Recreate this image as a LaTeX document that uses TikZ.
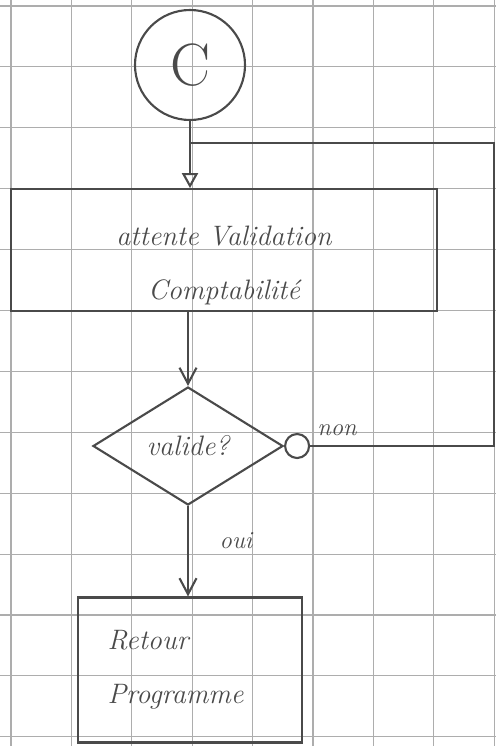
\documentclass[tikz,border=0pt]{standalone}
\usepackage{tikz}
\usetikzlibrary{arrows.meta,positioning,shapes.geometric}
\definecolor{Ink}{HTML}{4A4A4A}
\definecolor{GridLine}{HTML}{ADADAD}

\begin{document}
\begin{tikzpicture}[
    x=0.2mm, y=-0.2mm,
    hand/.style={font=\fontsize{16}{31}\selectfont\itshape, text=Ink},
    stepbox/.style={draw=Ink, line width=1.2pt, align=center, hand},
    decision/.style={
      diamond, draw=Ink, line width=1.2pt, inner sep=0pt,
      minimum width=38mm, minimum height=23.6mm, hand
    },
    joint/.style={circle, draw=Ink, line width=1.2pt, minimum size=4.8mm, inner sep=0pt},
    lbl/.style={font=\fontsize{14}{16}\selectfont\itshape, text=Ink},
    link/.style={line width=1.2pt, draw=Ink},
    arr/.style={-{Straight Barb[length=3.2mm,width=3.4mm]}, link},
    arrin/.style={-{Triangle[open,length=3mm,width=3.2mm]}, link}
  ]
    \useasboundingbox (0,0) rectangle (496,746);
    \foreach \gx in {0,...,8}
      \draw[GridLine, line width=0.6pt] ({11+60.4*\gx},0) -- ({11+60.4*\gx},746);
    \foreach \gy in {0,...,12}
      \draw[GridLine, line width=0.6pt] (0,{6+60.9*\gy}) -- (496,{6+60.9*\gy});

    \node[circle, draw=Ink, line width=1.2pt, minimum size=22mm, inner sep=0pt,
      font=\fontsize{34}{36}\selectfont, text=Ink] (debut) at (190,65) {C};
    \node[stepbox, minimum width=85.2mm, minimum height=24.2mm] (attente) at (224,250) {\rule{0pt}{10mm}attente Validation\\Comptabilit\'e};
    \node[decision] (valide) at (188,446) {valide?};
    \node[joint, right=0pt of valide.east] (nonpt) {};
    \node[lbl] (nonlbl) at (337,430) {non};
    \node[lbl] (ouilbl) at (236,541) {oui};
    \node[stepbox, align=left, text width=33mm, minimum width=44.8mm, minimum height=29mm] (retour) at (190,670) {Retour\\Programme};
    \coordinate (coin) at (494,143);

    \draw[arrin] (debut.south) -- (debut.south |- attente.north);
    \draw[arr] (attente.south -| valide.north) -- (valide.north);
    \draw[arr] (valide.south) -- (valide.south |- retour.north);
    \draw[link] (nonpt.east) -| (coin) -- (coin -| debut.south);
  \end{tikzpicture}
\end{document}
